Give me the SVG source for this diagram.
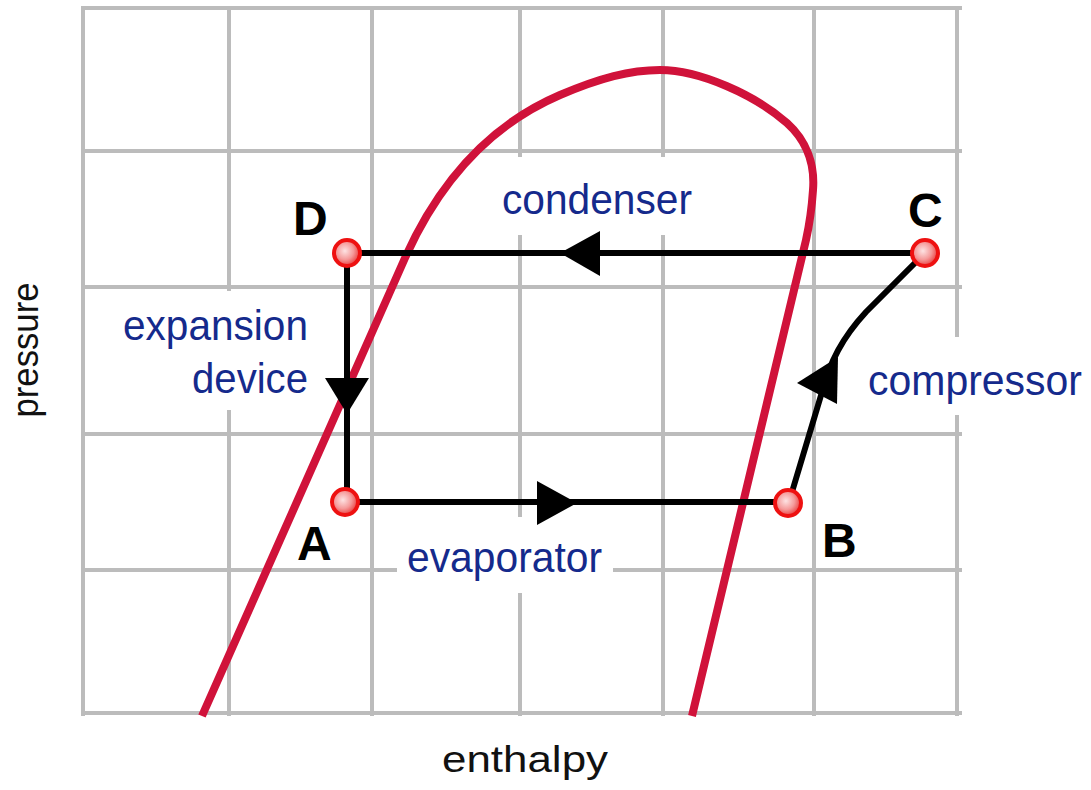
<svg xmlns="http://www.w3.org/2000/svg" width="1091" height="790" viewBox="0 0 1091 790">
  <defs>
    <radialGradient id="ball" cx="0.42" cy="0.42" r="0.6">
      <stop offset="0" stop-color="#fde3e3"/>
      <stop offset="0.55" stop-color="#f59a9a"/>
      <stop offset="1" stop-color="#e83a3a"/>
    </radialGradient>
  </defs>
  <style>
    .grid line { stroke: #bcbcbc; stroke-width: 4; }
    .bg { fill: #ffffff; }
    .dome { fill: none; stroke: #d0123a; stroke-width: 8; stroke-linecap: butt; }
    .flow { fill: none; stroke: #000000; stroke-width: 6; }
    .head { fill: #000000; }
    .pt { fill: url(#ball); stroke: #ee1111; stroke-width: 4; }
    .pt-label { font-family: "Liberation Sans", Arial, sans-serif; font-weight: bold; font-size: 48px; fill: #000000; }
    .comp { font-family: "Liberation Sans", Arial, sans-serif; font-size: 42px; fill: #152a8c; }
    .axis { font-family: "Liberation Sans", Arial, sans-serif; font-size: 37px; fill: #111111; }
  </style>
  <rect x="0" y="0" width="1091" height="790" fill="#ffffff"/>
  <g id="grid" class="grid">
    <line x1="83" y1="8" x2="83" y2="716"/>
    <line x1="229" y1="8" x2="229" y2="716"/>
    <line x1="372" y1="8" x2="372" y2="716"/>
    <line x1="520" y1="8" x2="520" y2="716"/>
    <line x1="663" y1="8" x2="663" y2="716"/>
    <line x1="814" y1="8" x2="814" y2="716"/>
    <line x1="957" y1="8" x2="957" y2="716"/>
    <line x1="81" y1="8" x2="962" y2="8"/>
    <line x1="81" y1="151" x2="962" y2="151"/>
    <line x1="81" y1="287" x2="962" y2="287"/>
    <line x1="81" y1="434" x2="962" y2="434"/>
    <line x1="81" y1="570" x2="962" y2="570"/>
    <line x1="81" y1="713" x2="962" y2="713"/>
  </g>
  <g id="label-backgrounds">
    <rect class="bg" x="495" y="157" width="205" height="78"/>
    <rect class="bg" x="112" y="291" width="206" height="119"/>
    <rect class="bg" x="860" y="337" width="231" height="78"/>
    <rect class="bg" x="397" y="517" width="216" height="76"/>
  </g>
  <g id="saturation-dome">
    <path class="dome" d="M202,716 L405,258 C440,180 490,125 560,95 C600,78 630,70 660,70 C700,70 755,95 787,123 C807,141 815,165 813,190 C812,205 810,222 806,240 L692,716"/>
  </g>
  <g id="connectors">
    <path id="condenser-line" class="flow" d="M925,253 L347,253"/>
    <polygon class="head" points="560,253 600,231 600,276"/>
    <path id="expansion-line" class="flow" d="M347,253 L347,502"/>
    <polygon class="head" points="347,414 325,378 369,378"/>
    <path id="evaporator-line" class="flow" d="M347,502 L789,502"/>
    <polygon class="head" points="577,503 537,481 537,525"/>
    <path id="compressor-line" class="flow" d="M789,502 L822,392 C830,362 842,338 866,312 L925,253"/>
    <polygon class="head" points="797,383 838,357 837,404"/>
  </g>
  <g id="node-D">
    <circle class="pt" cx="347" cy="253" r="13"/>
    <text class="pt-label" x="293" y="235">D</text>
  </g>
  <g id="node-C">
    <circle class="pt" cx="925" cy="253" r="13"/>
    <text class="pt-label" x="908" y="227">C</text>
  </g>
  <g id="node-A">
    <circle class="pt" cx="345" cy="502" r="13"/>
    <text class="pt-label" x="297" y="560">A</text>
  </g>
  <g id="node-B">
    <circle class="pt" cx="788" cy="503" r="13"/>
    <text class="pt-label" x="822" y="557">B</text>
  </g>
  <g id="labels">
    <text class="comp" x="502" y="214" textLength="190" lengthAdjust="spacingAndGlyphs">condenser</text>
    <text class="comp" x="123" y="340" textLength="185" lengthAdjust="spacingAndGlyphs">expansion</text>
    <text class="comp" x="192" y="393" textLength="116" lengthAdjust="spacingAndGlyphs">device</text>
    <text class="comp" x="868" y="395" textLength="214" lengthAdjust="spacingAndGlyphs">compressor</text>
    <text class="comp" x="407" y="572" textLength="195" lengthAdjust="spacingAndGlyphs">evaporator</text>
    <text class="axis" x="442" y="772" textLength="166" lengthAdjust="spacingAndGlyphs">enthalpy</text>
    <text class="axis" transform="translate(38,350) rotate(-90)" text-anchor="middle" textLength="135" lengthAdjust="spacingAndGlyphs">pressure</text>
  </g>
</svg>
